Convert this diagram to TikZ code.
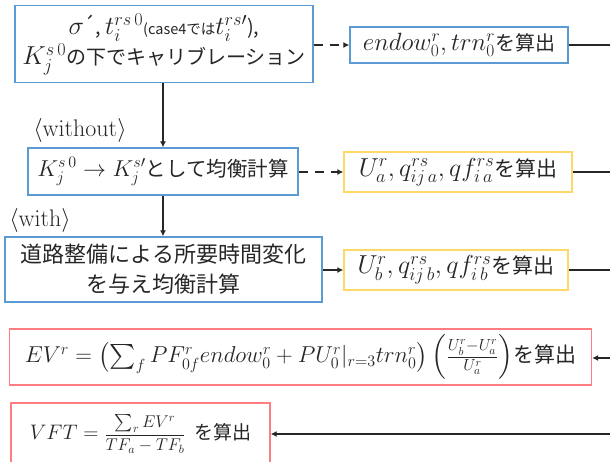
\RequirePackage{fix-cm}
\documentclass[tikz,border=0pt]{standalone}
\usepackage{amsmath}
\usepackage[no-math]{fontspec}
\setmainfont{Noto Sans CJK JP}
\usetikzlibrary{arrows.meta}
\definecolor{bblue}{HTML}{5B9BD5}
\definecolor{byel}{HTML}{FFD966}
\definecolor{bred}{HTML}{FF7C80}
\definecolor{ink}{HTML}{262626}
\newcommand{\mth}[2]{{\fontsize{#1}{#1}\selectfont$#2$}}
\begin{document}
\begin{tikzpicture}[x=1pt,y=-1pt,
  box/.style={draw, line width=1.3pt, inner sep=0pt, align=center, text=ink},
  bluebox/.style={box, draw=bblue},
  yelbox/.style={box, draw=byel},
  redbox/.style={box, draw=bred},
  conn/.style={draw=ink, line width=1.8pt},
  arr/.style={conn, -{Latex[length=6pt,width=6pt]}},
  darr/.style={arr, dash pattern=on 9pt off 7pt},
  lbl/.style={inner sep=0pt, text=ink, font=\fontsize{24}{24}\selectfont}]
\useasboundingbox (0,0) rectangle (610,461);

\node[bluebox, minimum width=298pt, minimum height=77pt, font=\fontsize{20}{30}\selectfont] (cal) at (164,44)
  {\mth{26}{\sigma}\kern-1pt\raisebox{2pt}{´}, \mth{26}{t_i^{rs\,0}}{\fontsize{14.5}{20}\selectfont(case4では}\mth{26}{t_i^{rs\prime}}),\\
   \mth{26}{K_j^{s\,0}}の下でキャリブレーション};
\node[bluebox, minimum width=218pt, minimum height=36pt, font=\fontsize{20}{24}\selectfont] (endow) at (459,45)
  {\mth{25}{endow_0^r, trn_0^r}を算出};
\node[bluebox, minimum width=270pt, minimum height=47pt, font=\fontsize{20.5}{24}\selectfont] (wo) at (163,171.5)
  {\mth{23}{K_j^{s\,0}\rightarrow K_j^{s\prime}}として均衡計算};
\node[bluebox, minimum width=317pt, minimum height=65pt, font=\fontsize{22}{30}\selectfont] (wi) at (163.5,269.5)
  {道路整備による所要時間変化\\を与え均衡計算};
\node[yelbox, minimum width=228pt, minimum height=40pt, font=\fontsize{21}{24}\selectfont] (ua) at (458,172)
  {\mth{26}{U_a^r, q_{ij\,a}^{rs}, qf_{i\,a}^{rs}}を算出};
\node[yelbox, minimum width=224pt, minimum height=40pt, font=\fontsize{21}{24}\selectfont] (ub) at (456,270)
  {\mth{26}{U_b^r, q_{ij\,b}^{rs}, qf_{i\,b}^{rs}}を算出};
\node[redbox, minimum width=582pt, minimum height=56pt, font=\fontsize{21}{24}\selectfont] (ev) at (300.5,357)
  {\mth{23}{EV^r=\left(\sum\nolimits_f PF_{0f}^r endow_0^r+PU_0^r|_{r=3}trn_0^r\right)\left(\frac{U_b^r-U_a^r}{U_a^r}\right)}を算出};
\node[redbox, minimum width=259pt, minimum height=62pt, font=\fontsize{19}{24}\selectfont] (vft) at (140.5,434)
  {\mth{21}{VFT={}}\mth{17}{\displaystyle\frac{\sum_r EV^r}{TF_a-TF_b}}\ \ を算出};

\node[lbl] (lwo) at (80,130) {$\langle\mathrm{without}\rangle$};
\node[lbl] (lwi) at (40,220) {$\langle\mathrm{with}\rangle$};

\coordinate (r1) at (610.5,45);
\coordinate (r2) at (610.5,172);
\coordinate (r3) at (610.5,270);
\coordinate (r4) at (610.5,358);
\coordinate (r5) at (610.5,434);

\draw[arr] (cal.south -| wo.north) -- (wo.north);
\draw[arr] (wo.south) -- (wi.north -| wo.south);
\draw[darr] (cal.east |- endow.west) -- (endow.west);
\draw[darr] (wo.east |- ua.west) -- (ua.west);
\draw[arr] (wi.east |- ub.west) -- (ub.west);
\draw[conn] (endow.east) -- (r1);
\draw[conn] (ua.east) -- (r2);
\draw[conn] (ub.east) -- (r3);
\draw[conn, draw=ink!15, line width=1pt] (r1) -- (r5);
\draw[arr] (r4) -- (ev.east |- r4);
\draw[arr] (r5) -- (vft.east |- r5);
\end{tikzpicture}
\end{document}
